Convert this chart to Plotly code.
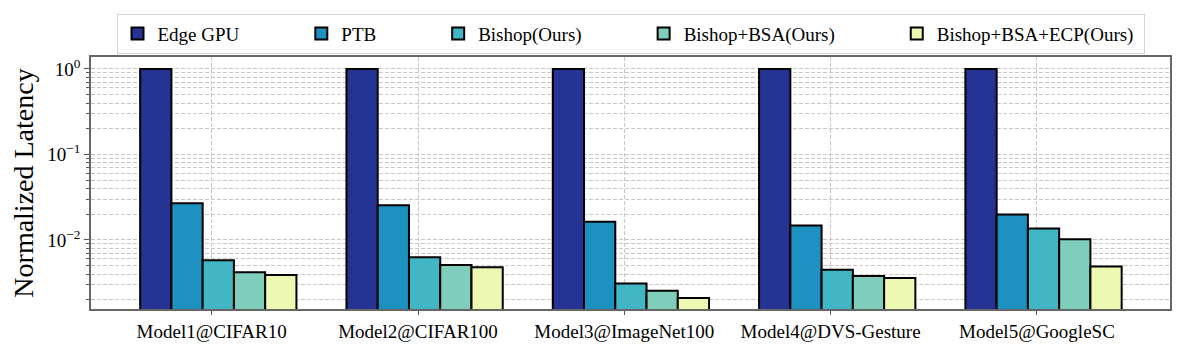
import plotly.graph_objects as go

# Data
models = ["Model1@CIFAR10", "Model2@CIFAR100", "Model3@ImageNet100",
          "Model4@DVS-Gesture", "Model5@GoogleSC"]
series_names = ["Edge GPU", "PTB", "Bishop(Ours)", "Bishop+BSA(Ours)", "Bishop+BSA+ECP(Ours)"]
edge_gpu = [1.0, 1.0, 1.0, 1.0, 1.0]
ptb = [0.0269, 0.0255, 0.0163, 0.0148, 0.0198]
bishop = [0.0058, 0.0063, 0.0031, 0.0045, 0.0136]
bishop_bsa = [0.0042, 0.0051, 0.00255, 0.0038, 0.0102]
bishop_bsa_ecp = [0.0039, 0.0048, 0.0021, 0.0036, 0.0049]

COLORS = ['#253494', '#1d91c0', '#41b6c4', '#7fcdbb', '#edf8b1']
FONT = "Liberation Serif"
GRID = '#c8c8c8'
PAD = '\u00a0' * 12  # widen gaps between legend entries

all_series = [edge_gpu, ptb, bishop, bishop_bsa, bishop_bsa_ecp]
bar_w = 0.1515
shift = 0.032

fig = go.Figure()
for i, (name, vals) in enumerate(zip(series_names, all_series)):
    xs = [g + (i - 2) * bar_w + shift for g in range(len(models))]
    label = name + (PAD if i < len(series_names) - 1 else '\u00a0')
    fig.add_trace(go.Bar(
        x=xs, y=vals, width=bar_w, name=label,
        marker=dict(color=COLORS[i], line=dict(color='black', width=2)),
    ))

# minor log gridlines 2..9 per decade
minor_vals = [k * 10 ** e for e in range(-3, 1) for k in range(2, 10)]

# page body has an 8px margin, so the figure is a bit smaller than the window
fig.update_layout(
    barmode='overlay',
    width=1188, height=342,
    margin=dict(l=83, r=26, t=49, b=41, autoexpand=False),
    plot_bgcolor='white', paper_bgcolor='white',
    font=dict(family=FONT, color='black', size=18),
    legend=dict(
        orientation='h', x=0.5, xanchor='center',
        yref='container', y=0.925, yanchor='middle',
        bordercolor='#d6d6d6', borderwidth=1, bgcolor='white',
        font=dict(family=FONT, size=19), itemwidth=30,
    ),
)

fig.update_xaxes(
    range=[-0.585, 4.645],
    tickvals=list(range(len(models))), ticktext=models,
    ticks='outside', ticklen=4, tickcolor='#555',
    tickfont=dict(family=FONT, size=19),
    showgrid=True, gridcolor=GRID, griddash='4px,2px', gridwidth=1,
    showline=True, linecolor='#666', linewidth=1.5, mirror=True,
    zeroline=False,
)
fig.update_yaxes(
    type='log', range=[-2.807, 0.14],
    tickvals=[0.01, 0.1, 1],
    ticktext=["10<sup>\u22122</sup>", "10<sup>\u22121</sup>", "10<sup>0</sup>"],
    ticks='outside', ticklen=5, tickcolor='#555',
    tickfont=dict(family=FONT, size=19),
    showgrid=True, gridcolor=GRID, griddash='4px,2px', gridwidth=1,
    minor=dict(tickvals=minor_vals, ticks='outside', ticklen=3, tickcolor='#555',
               showgrid=True, gridcolor=GRID, griddash='4px,2px', gridwidth=1),
    showline=True, linecolor='#666', linewidth=1.5, mirror=True,
    zeroline=False,
    title=dict(text="Normalized Latency", font=dict(family=FONT, size=28), standoff=8),
)

fig.write_html("out.html")
